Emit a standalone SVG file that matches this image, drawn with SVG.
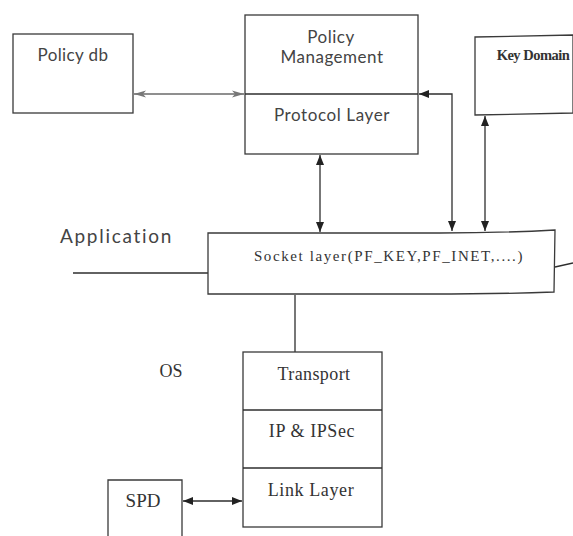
<svg xmlns="http://www.w3.org/2000/svg" width="573" height="536" viewBox="0 0 573 536">
  <style>
    .box { fill: #fff; stroke: #3a3a3a; stroke-width: 1.3; }
    .ln { fill: none; stroke: #2e2e2e; stroke-width: 1.3; }
    .lnG { fill: none; stroke: #6a6a6a; stroke-width: 1.4; }
    .serif { font-family: "Liberation Serif", "Times New Roman", serif; fill: #333; }
    .sans { font-family: Lato, "Open Sans", sans-serif; fill: #444; }
  </style>
  <defs>
    <marker id="ah" viewBox="0 0 10 8" refX="10" refY="4" markerWidth="10" markerHeight="8" markerUnits="userSpaceOnUse" orient="auto-start-reverse">
      <path d="M0,0 L10,4 L0,8 Z" fill="#222"/>
    </marker>
    <marker id="ahG" viewBox="0 0 12 8" refX="12" refY="4" markerWidth="12" markerHeight="8" markerUnits="userSpaceOnUse" orient="auto-start-reverse">
      <path d="M0,0.5 L12,4 L0,7.5 L3,4 Z" fill="#777"/>
    </marker>
  </defs>
  <rect width="573" height="536" fill="#fff"/>

  <!-- connectors -->
  <g id="connectors">
    <line class="lnG" x1="134" y1="94" x2="244" y2="94" marker-start="url(#ahG)" marker-end="url(#ahG)"/>
    <polyline class="ln" points="419,94 452,94 452,231" marker-start="url(#ah)" marker-end="url(#ah)"/>
    <line class="ln" x1="485" y1="116" x2="485" y2="231" marker-start="url(#ah)" marker-end="url(#ah)"/>
    <line class="ln" x1="320" y1="155" x2="320" y2="232" marker-start="url(#ah)" marker-end="url(#ah)"/>
    <line class="ln" x1="73" y1="273" x2="208" y2="273"/>
    <path class="ln" d="M555,267 L573,263"/>
    <line class="ln" x1="295" y1="295" x2="295" y2="352"/>
    <line class="ln" x1="183" y1="501" x2="242" y2="501" marker-start="url(#ah)" marker-end="url(#ah)"/>
  </g>

  <g id="policy-db">
    <rect class="box" x="13" y="34" width="120" height="79"/>
    <text class="sans" x="73" y="61" font-size="17" text-anchor="middle" letter-spacing="0.4">Policy db</text>
  </g>

  <g id="policy-management">
    <rect class="box" x="245" y="15" width="173" height="139"/>
    <line class="ln" x1="245" y1="94" x2="418" y2="94"/>
    <text class="sans" x="331" y="43" font-size="17" text-anchor="middle" letter-spacing="0.5">Policy</text>
    <text class="sans" x="332" y="63" font-size="17" text-anchor="middle" letter-spacing="0.5">Management</text>
    <text class="sans" x="332" y="121" font-size="17" text-anchor="middle" letter-spacing="0.6">Protocol Layer</text>
  </g>

  <g id="key-domain">
    <path class="box" d="M475,37 L573,35 L573,113 L475,115 Z"/>
    <text class="serif" x="533" y="60" font-size="14.5" font-weight="bold" text-anchor="middle" letter-spacing="-0.5">Key Domain</text>
  </g>

  <text class="sans" x="60" y="243" font-size="19" letter-spacing="1.7">Application</text>

  <g id="socket-layer">
    <path class="box" d="M208,233 L440,233 Q500,233 555,230 L554,292 Q500,294 430,294 L208,294 Z"/>
    <text class="serif" x="389" y="261" font-size="15" text-anchor="middle" letter-spacing="1.6">Socket layer(PF_KEY,PF_INET,....)</text>
  </g>

  <text class="serif" x="171" y="377" font-size="18" text-anchor="middle">OS</text>

  <g id="stack">
    <rect class="box" x="243" y="352" width="139" height="175"/>
    <line class="ln" x1="243" y1="410" x2="382" y2="410"/>
    <line class="ln" x1="243" y1="468" x2="382" y2="468"/>
    <text class="serif" x="314" y="380" font-size="18" text-anchor="middle" letter-spacing="0.4">Transport</text>
    <text class="serif" x="312" y="437" font-size="18" text-anchor="middle" letter-spacing="0.6">IP &amp; IPSec</text>
    <text class="serif" x="311" y="496" font-size="18" text-anchor="middle" letter-spacing="0.6">Link Layer</text>
  </g>

  <g id="spd">
    <path class="box" d="M108,536 L108,480 L182,480 L182,536"/>
    <text class="serif" x="143" y="507" font-size="19" text-anchor="middle">SPD</text>
  </g>
</svg>
